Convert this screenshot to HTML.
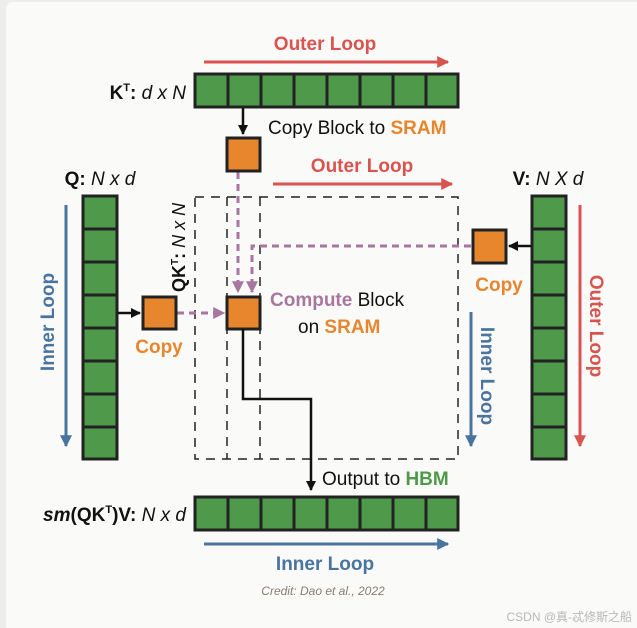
<!DOCTYPE html>
<html><head><style>
html,body{margin:0;padding:0;background:#ededeb;}
svg{display:block;font-family:"Liberation Sans","Noto Sans CJK SC",sans-serif;}
</style></head><body>
<svg width="637" height="628" viewBox="0 0 637 628" xmlns="http://www.w3.org/2000/svg">
<defs>
<marker id="ab" viewBox="0 0 10 10" refX="9" refY="5" markerWidth="4" markerHeight="4" orient="auto"><path d="M0,0 L10,5 L0,10 z" fill="#111"/></marker>
<marker id="ar" viewBox="0 0 10 10" refX="9" refY="5" markerWidth="4" markerHeight="4" orient="auto"><path d="M0,0 L10,5 L0,10 z" fill="#d9534f"/></marker>
<marker id="au" viewBox="0 0 10 10" refX="9" refY="5" markerWidth="4" markerHeight="4" orient="auto"><path d="M0,0 L10,5 L0,10 z" fill="#4a74a0"/></marker>
<marker id="ap" viewBox="0 0 10 10" refX="9" refY="5" markerWidth="4" markerHeight="4" orient="auto"><path d="M0,0 L10,5 L0,10 z" fill="#a877a0"/></marker>
</defs>
<rect x="6" y="2" width="640" height="640" rx="7" fill="#fafaf9"/>

<!-- top outer loop -->
<text x="325" y="50" font-size="19" font-weight="bold" fill="#d9534f" text-anchor="middle">Outer Loop</text>
<line x1="204" y1="62" x2="448" y2="62" stroke="#d9534f" stroke-width="3" marker-end="url(#ar)"/>

<!-- K^T row -->
<text x="186" y="99" font-size="19" text-anchor="end" fill="#111"><tspan font-weight="bold">K<tspan font-size="11" dy="-8">T</tspan><tspan dy="8">:</tspan></tspan> <tspan font-style="italic">d x N</tspan></text>
<g fill="#4e9a4a" stroke="#222" stroke-width="3">
<rect x="195" y="74" width="33" height="33"/><rect x="228" y="74" width="33" height="33"/><rect x="261" y="74" width="33" height="33"/><rect x="294" y="74" width="33" height="33"/><rect x="327" y="74" width="33" height="33"/><rect x="360" y="74" width="33" height="33"/><rect x="393" y="74" width="33" height="33"/><rect x="426" y="74" width="32" height="33"/>
</g>
<line x1="243" y1="108" x2="243" y2="134" stroke="#111" stroke-width="2.5" marker-end="url(#ab)"/>
<text x="268" y="134" font-size="19" fill="#111">Copy Block to <tspan fill="#e8862e" font-weight="bold">SRAM</tspan></text>

<!-- second outer loop -->
<text x="362" y="172" font-size="19" font-weight="bold" fill="#d9534f" text-anchor="middle">Outer Loop</text>
<line x1="273" y1="184" x2="452" y2="184" stroke="#d9534f" stroke-width="3" marker-end="url(#ar)"/>

<!-- dashed boxes -->
<rect x="195" y="197" width="263" height="262" fill="none" stroke="#222" stroke-width="1.5" stroke-dasharray="9,7"/>
<line x1="227" y1="197" x2="227" y2="459" stroke="#222" stroke-width="1.5" stroke-dasharray="9,7"/>
<line x1="260" y1="197" x2="260" y2="459" stroke="#222" stroke-width="1.5" stroke-dasharray="9,7"/>
<text transform="translate(185,292) rotate(-90)" font-size="18" fill="#111"><tspan font-weight="bold">QK<tspan font-size="10" dy="-7">T</tspan><tspan dy="7">:</tspan></tspan> <tspan font-style="italic">N x N</tspan></text>

<!-- purple dashed -->
<g stroke="#a877a0" stroke-width="3" stroke-dasharray="7,5" fill="none">
<line x1="238" y1="172" x2="238" y2="292" marker-end="url(#ap)"/>
<polyline points="471,246 252,246 252,292" marker-end="url(#ap)"/>
<line x1="177" y1="313" x2="224" y2="313" marker-end="url(#ap)"/>
</g>

<!-- orange blocks -->
<g fill="#e8862e" stroke="#222" stroke-width="3">
<rect x="227" y="138" width="33" height="33"/>
<rect x="227" y="297" width="33" height="32"/>
<rect x="143" y="297" width="33" height="32"/>
<rect x="473" y="230" width="33" height="33"/>
</g>

<!-- Q column -->
<text x="100" y="185" font-size="19" text-anchor="middle" fill="#111"><tspan font-weight="bold">Q:</tspan> <tspan font-style="italic">N x d</tspan></text>
<g fill="#4e9a4a" stroke="#222" stroke-width="3">
<rect x="83" y="196" width="34" height="33"/><rect x="83" y="229" width="34" height="33"/><rect x="83" y="262" width="34" height="33"/><rect x="83" y="295" width="34" height="33"/><rect x="83" y="328" width="34" height="33"/><rect x="83" y="361" width="34" height="33"/><rect x="83" y="394" width="34" height="33"/><rect x="83" y="427" width="34" height="32"/>
</g>
<line x1="118" y1="313" x2="140" y2="313" stroke="#111" stroke-width="2.5" marker-end="url(#ab)"/>
<text x="159" y="353" font-size="19" font-weight="bold" fill="#e8862e" text-anchor="middle">Copy</text>
<line x1="66" y1="205" x2="66" y2="446" stroke="#4a74a0" stroke-width="3" marker-end="url(#au)"/>
<text transform="translate(54,322) rotate(-90)" font-size="19" font-weight="bold" fill="#4a74a0" text-anchor="middle">Inner Loop</text>

<!-- V column -->
<text x="548" y="185" font-size="19" text-anchor="middle" fill="#111"><tspan font-weight="bold">V:</tspan> <tspan font-style="italic">N X d</tspan></text>
<g fill="#4e9a4a" stroke="#222" stroke-width="3">
<rect x="532" y="196" width="34" height="33"/><rect x="532" y="229" width="34" height="33"/><rect x="532" y="262" width="34" height="33"/><rect x="532" y="295" width="34" height="33"/><rect x="532" y="328" width="34" height="33"/><rect x="532" y="361" width="34" height="33"/><rect x="532" y="394" width="34" height="33"/><rect x="532" y="427" width="34" height="32"/>
</g>
<line x1="531" y1="246" x2="509" y2="246" stroke="#111" stroke-width="2.5" marker-end="url(#ab)"/>
<text x="499" y="291" font-size="19" font-weight="bold" fill="#e8862e" text-anchor="middle">Copy</text>
<line x1="580" y1="205" x2="580" y2="446" stroke="#d9534f" stroke-width="3" marker-end="url(#ar)"/>
<text transform="translate(590,326) rotate(90)" font-size="19" font-weight="bold" fill="#d9534f" text-anchor="middle">Outer Loop</text>
<line x1="471" y1="312" x2="471" y2="446" stroke="#4a74a0" stroke-width="3" marker-end="url(#au)"/>
<text transform="translate(481,376) rotate(90)" font-size="19" font-weight="bold" fill="#4a74a0" text-anchor="middle">Inner Loop</text>

<!-- compute text -->
<text x="270" y="306" font-size="19" fill="#111"><tspan fill="#a877a0" font-weight="bold">Compute</tspan> Block</text>
<text x="298" y="333" font-size="19" fill="#111">on <tspan fill="#e8862e" font-weight="bold">SRAM</tspan></text>

<!-- output path -->
<polyline points="243,329 243,399 311,399 311,490" fill="none" stroke="#111" stroke-width="2.5" marker-end="url(#ab)"/>
<text x="322" y="485" font-size="19" fill="#111">Output to <tspan fill="#4e9a4a" font-weight="bold">HBM</tspan></text>

<!-- output row -->
<text x="186" y="521" font-size="19" text-anchor="end" fill="#111"><tspan font-weight="bold"><tspan font-style="italic">sm</tspan>(QK<tspan font-size="11" dy="-8">T</tspan><tspan dy="8">)V:</tspan></tspan> <tspan font-style="italic">N x d</tspan></text>
<g fill="#4e9a4a" stroke="#222" stroke-width="3">
<rect x="195" y="497" width="33" height="33"/><rect x="228" y="497" width="33" height="33"/><rect x="261" y="497" width="33" height="33"/><rect x="294" y="497" width="33" height="33"/><rect x="327" y="497" width="33" height="33"/><rect x="360" y="497" width="33" height="33"/><rect x="393" y="497" width="33" height="33"/><rect x="426" y="497" width="32" height="33"/>
</g>
<line x1="204" y1="544" x2="448" y2="544" stroke="#4a74a0" stroke-width="3" marker-end="url(#au)"/>
<text x="325" y="570" font-size="19" font-weight="bold" fill="#4a74a0" text-anchor="middle">Inner Loop</text>
<text x="323" y="595" font-size="12" font-style="italic" fill="#8a7d70" text-anchor="middle">Credit: Dao et al., 2022</text>
<text x="632" y="621" font-size="12" fill="#b8b8b8" text-anchor="end">CSDN @真-忒修斯之船</text>
</svg>
</body></html>
